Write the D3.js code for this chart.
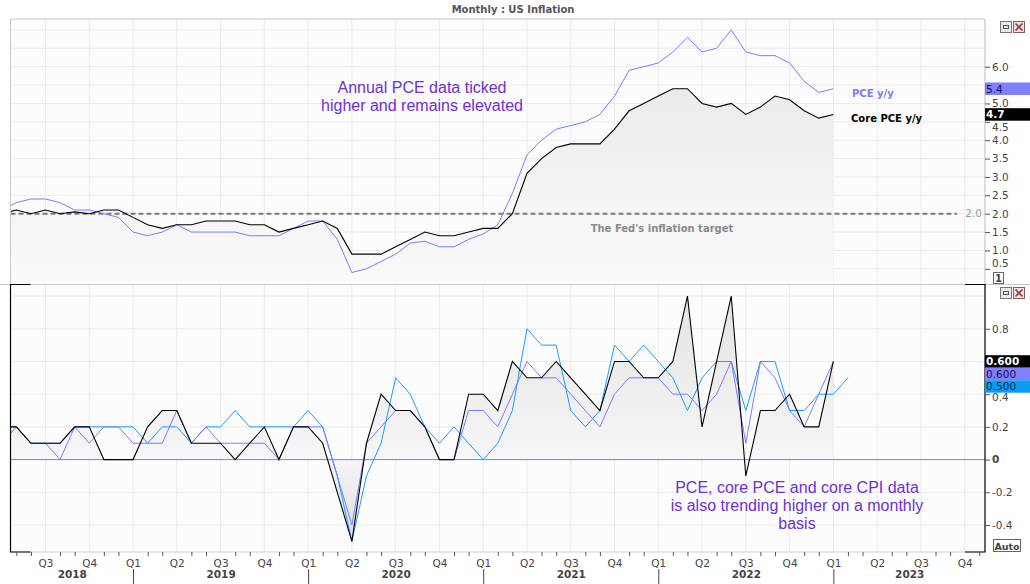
<!DOCTYPE html>
<html><head><meta charset="utf-8">
<script src="https://cdn.jsdelivr.net/npm/d3@7"></script>
<style>
body{margin:0;background:#fff}
svg{display:block}
text{font-family:"DejaVu Sans",sans-serif}
</style>
</head><body>
<svg id="c" width="1030" height="584"></svg>
<script>
// ---------- DATA (monthly, Apr 2018 onward) ----------
const axisMonths = d3.timeMonth.range(new Date(2018, 3, 1), new Date(2023, 11, 1)); // Apr 2018 .. Nov 2023

const pceYoY = [2.1,2.3,2.4,2.4,2.3,2.1,2.1,2.0,1.9,
  1.5,1.4,1.5,1.7,1.5,1.5,1.5,1.5,1.4,1.4,1.4,1.6,
  1.8,1.8,1.3,0.4,0.5,0.7,0.9,1.2,1.25,1.1,1.1,1.3,
  1.45,1.7,2.55,3.6,4.0,4.3,4.4,4.5,4.7,5.2,5.9,6.0,
  6.1,6.4,6.8,6.4,6.5,7.0,6.4,6.3,6.3,6.1,5.6,5.3,
  5.4];
const corePceYoY = [2.0,2.1,2.0,2.1,2.0,2.05,2.0,2.1,2.1,
  1.9,1.7,1.6,1.7,1.7,1.8,1.8,1.8,1.7,1.7,1.5,1.6,
  1.7,1.8,1.6,0.9,0.9,0.9,1.1,1.3,1.5,1.4,1.4,1.5,
  1.6,1.6,2.0,3.1,3.5,3.8,3.9,3.9,3.9,4.3,4.8,5.0,
  5.2,5.4,5.4,5.0,4.9,5.0,4.7,4.9,5.2,5.1,4.8,4.6,
  4.7];
const pceMoM = [0.2,0.2,0.1,0.1,0.1,0.2,0.2,0.0,0.0,
  0.0,0.2,0.3,0.3,0.1,0.1,0.1,0.0,0.1,0.2,0.0,0.2,
  0.2,0.1,-0.2,-0.5,0.1,0.4,0.3,0.3,0.2,0.0,0.0,0.4,
  0.4,0.3,0.6,0.5,0.5,0.6,0.5,0.4,0.3,0.6,0.6,0.5,
  0.5,0.6,1.0,0.2,0.6,1.0,-0.1,0.3,0.3,0.4,0.2,0.2,
  0.6];
const corePceMoM = [0.2,0.2,0.1,0.1,0.0,0.2,0.1,0.2,0.2,
  0.1,0.1,0.1,0.3,0.1,0.2,0.1,0.1,0.1,0.1,0.0,0.2,
  0.2,0.2,-0.1,-0.4,0.1,0.2,0.3,0.3,0.2,0.0,0.0,0.3,
  0.3,0.2,0.4,0.6,0.5,0.5,0.4,0.3,0.2,0.4,0.5,0.5,
  0.5,0.4,0.4,0.3,0.4,0.6,0.1,0.6,0.5,0.3,0.2,0.4,
  0.6];
const coreCpiMoM = [0.1,0.2,0.1,0.1,0.1,0.2,0.2,0.2,0.2,
  0.2,0.1,0.2,0.2,0.1,0.2,0.2,0.3,0.2,0.2,0.2,0.2,
  0.3,0.2,-0.1,-0.5,-0.1,0.1,0.5,0.4,0.2,0.1,0.2,0.1,
  0.0,0.1,0.3,0.8,0.7,0.7,0.3,0.2,0.3,0.7,0.6,0.7,
  0.6,0.5,0.3,0.5,0.6,0.6,0.3,0.6,0.6,0.3,0.3,0.4,
  0.4,0.5];

const topTicks = [0.5,1.0,1.5,2.0,2.5,3.0,3.5,4.0,4.5,5.0,5.5,6.0];
const topGrid = [0.5,1.0,1.5,2.0,2.5,3.0,3.5,4.0,4.5,5.0,5.5,6.0,6.5,7.0];
const bottomTicks = [-0.4,-0.2,0,0.2,0.4,0.6,0.8];
const bottomGrid = [-0.4,-0.2,0,0.2,0.4,0.6,0.8,1.0];
const hiddenTopLabels = [5.5];      // covered by the last-value boxes
const hiddenBottomLabels = [0.6];
const fedTarget = 2.0;
const titleText = "Monthly : US Inflation";
const topNote = ["Annual PCE data ticked", "higher and remains elevated"];
const bottomNote = ["PCE, core PCE and core CPI data", "is also trending higher on a monthly", "basis"];

// ---------- LAYOUT ----------
const L = 10.5, R = 985, T1 = 19, B1 = 284.5, B2 = 552;
const svg = d3.select("#c");
const x = d3.scaleLinear().domain([0, 66]).range([1.73, 964.67]);
const y1 = d3.scaleLinear().domain([0, 7.3]).range([287.2, 18.9]);
const y2 = d3.scaleLinear().domain([-0.565, 1.07]).range([552, 284.6]);

const C_PCE = "#7b7bff", C_CPI = "#1a9cff", C_NOTE = "#6c31cf";

const defs = svg.append("defs");
defs.append("clipPath").attr("id","clipTop").append("rect").attr("x",L).attr("y",T1).attr("width",R-L).attr("height",B1-T1);
defs.append("clipPath").attr("id","clipBot").append("rect").attr("x",L).attr("y",B1).attr("width",R-L).attr("height",B2-B1);
const g1 = defs.append("linearGradient").attr("id","gTop").attr("gradientUnits","userSpaceOnUse").attr("x1",0).attr("x2",0).attr("y1",T1).attr("y2",B1);
g1.append("stop").attr("offset",0).attr("stop-color","#e6e6e6");
g1.append("stop").attr("offset",1).attr("stop-color","#fafafa");
const z0 = (y2(0)-B1)/(B2-B1);
const g2 = defs.append("linearGradient").attr("id","gBot").attr("gradientUnits","userSpaceOnUse").attr("x1",0).attr("x2",0).attr("y1",B1).attr("y2",B2);
g2.append("stop").attr("offset",0).attr("stop-color","#e2e2e2");
g2.append("stop").attr("offset",z0).attr("stop-color","#f6f6f6");
g2.append("stop").attr("offset",1).attr("stop-color","#d8d8d8");

// backgrounds
svg.append("rect").attr("x",L).attr("y",T1).attr("width",R-L).attr("height",B1-T1).attr("fill","#fcfcfc");
svg.append("rect").attr("x",L).attr("y",B1).attr("width",R-L).attr("height",B2-B1).attr("fill","#fcfcfc");

// grids
const idx = axisMonths.map((d,i)=>i);
const quarterIdx = idx.filter(i => axisMonths[i].getMonth()%3===0 && x(i)>L && x(i)<R);
const gridG = svg.append("g").attr("stroke","#ebebeb").attr("stroke-width",1);
quarterIdx.forEach(i=>{
  gridG.append("line").attr("x1",x(i)).attr("x2",x(i)).attr("y1",T1).attr("y2",B2);
});
topGrid.forEach(v=>{
  gridG.append("line").attr("x1",L).attr("x2",R).attr("y1",y1(v)).attr("y2",y1(v));
});
bottomGrid.forEach(v=>{
  gridG.append("line").attr("x1",L).attr("x2",R).attr("y1",y2(v)).attr("y2",y2(v));
});

// ---------- TOP PANEL ----------
const topG = svg.append("g").attr("clip-path","url(#clipTop)");
topG.append("path").datum(corePceYoY)
  .attr("d", d3.area().x((d,i)=>x(i)).y0(B1).y1(d=>y1(d)))
  .attr("fill","url(#gTop)");
topG.append("line").attr("x1",L).attr("x2",957).attr("y1",y1(fedTarget)).attr("y2",y1(fedTarget))
  .attr("stroke","#7a7a7a").attr("stroke-width",2).attr("stroke-dasharray","5,3");
const lineTop = d3.line().x((d,i)=>x(i)).y(d=>y1(d));
topG.append("path").datum(pceYoY).attr("d",lineTop).attr("fill","none").attr("stroke",C_PCE).attr("stroke-width",1);
topG.append("path").datum(corePceYoY).attr("d",lineTop).attr("fill","none").attr("stroke","#000").attr("stroke-width",1.1);

// ---------- BOTTOM PANEL ----------
const botG = svg.append("g").attr("clip-path","url(#clipBot)");
botG.append("path").datum(pceMoM)
  .attr("d", d3.area().x((d,i)=>x(i)).y0(y2(0)).y1(d=>y2(d)))
  .attr("fill","url(#gBot)");
botG.append("line").attr("x1",L).attr("x2",R).attr("y1",y2(0)).attr("y2",y2(0)).attr("stroke",C_PCE).attr("stroke-width",1);
const lineBot = d3.line().x((d,i)=>x(i)).y(d=>y2(d));
botG.append("path").datum(coreCpiMoM).attr("d",lineBot).attr("fill","none").attr("stroke",C_CPI).attr("stroke-width",1);
botG.append("path").datum(corePceMoM).attr("d",lineBot).attr("fill","none").attr("stroke",C_PCE).attr("stroke-width",1);
botG.append("path").datum(pceMoM).attr("d",lineBot).attr("fill","none").attr("stroke","#000").attr("stroke-width",1.1);

// ---------- FRAMES ----------
svg.append("line").attr("x1",0).attr("x2",1030).attr("y1",B1).attr("y2",B1).attr("stroke","#c8c8c8");
svg.append("line").attr("x1",L).attr("x2",R).attr("y1",T1).attr("y2",T1).attr("stroke","#c8c8c8");
svg.append("line").attr("x1",L).attr("x2",L).attr("y1",T1).attr("y2",B1).attr("stroke","#c8c8c8");
svg.append("line").attr("x1",R).attr("x2",R).attr("y1",T1).attr("y2",B1).attr("stroke","#bdbdbd");
svg.append("line").attr("x1",L).attr("x2",R).attr("y1",B2).attr("y2",B2).attr("stroke","#d0d0d0");
const br = svg.append("g").attr("stroke","#000").attr("stroke-width",1.2).attr("fill","none");
br.append("path").attr("d",`M${L+20},${B1}H${L}V${B2}H${L+20}`);
br.append("path").attr("d",`M${R-20},${B1}H${R}V${B2}H${R-20}`);

// ---------- Y AXES ----------
const fmt1 = d => d===0 ? "0" : d.toFixed(1);
const ay1 = svg.append("g").attr("transform",`translate(${R},0)`)
  .call(d3.axisRight(y1).tickValues(topTicks).tickSize(5).tickPadding(2).tickFormat(fmt1));
ay1.select(".domain").remove();
ay1.selectAll(".tick line").attr("stroke","#555");
ay1.selectAll(".tick text").attr("fill","#444").style("font-size","10.5px").style("font-family","DejaVu Sans");
ay1.selectAll(".tick").filter(d=>d===0.5).select("text").attr("dy","-0.25em");
ay1.selectAll(".tick").filter(d=>hiddenTopLabels.includes(d)).select("text").remove();
ay1.selectAll(".tick").filter(d=>d===4.5).select("text").attr("dy","0.78em");

const ay2 = svg.append("g").attr("transform",`translate(${R},0)`)
  .call(d3.axisRight(y2).tickValues(bottomTicks).tickSize(5).tickPadding(2).tickFormat(fmt1));
ay2.select(".domain").remove();
ay2.selectAll(".tick line").attr("stroke","#555");
ay2.selectAll(".tick text").attr("fill","#444").style("font-size","10.5px").style("font-family","DejaVu Sans");
ay2.selectAll(".tick").filter(d=>d===0).select("text").style("font-weight","bold");
ay2.selectAll(".tick").filter(d=>hiddenBottomLabels.includes(d)).select("text").remove();
ay2.selectAll(".tick").filter(d=>d===0.4).select("text").attr("dy","0.6em");

// ---------- X AXIS ----------
const minorIdx = idx.filter(i => axisMonths[i].getMonth()%3!==0 && x(i)>L && x(i)<=R);
const ax1 = svg.append("g").attr("transform",`translate(0,${B2})`)
  .call(d3.axisBottom(x).tickValues(minorIdx).tickSize(4).tickFormat(""));
ax1.select(".domain").remove();
ax1.selectAll(".tick line").attr("stroke","#555");

const ax2 = svg.append("g").attr("transform",`translate(0,${B2})`)
  .call(d3.axisBottom(x).tickValues(quarterIdx).tickSize(0).tickPadding(7.5)
    .tickFormat(i => "Q" + (Math.floor(axisMonths[i].getMonth()/3)+1)));
ax2.select(".domain").remove();
ax2.selectAll(".tick text").attr("fill","#444").style("font-size","10.5px").style("font-family","DejaVu Sans");

const janIdx = idx.filter(i => axisMonths[i].getMonth()===0);
const ax3 = svg.append("g").attr("transform",`translate(0,569)`)
  .call(d3.axisBottom(x).tickValues(janIdx).tickSize(15).tickFormat(""));
ax3.select(".domain").remove();
ax3.selectAll(".tick line").attr("stroke","#444");

const yearsList = d3.range(2018, 2024);
const yearCenters = yearsList.map(yr => {
  const jStart = idx.find(i=>axisMonths[i].getFullYear()===yr && axisMonths[i].getMonth()===0);
  const a = jStart===undefined ? L : Math.max(L, x(jStart));
  const jn = idx.find(i=>axisMonths[i].getFullYear()===yr+1 && axisMonths[i].getMonth()===0);
  const b = jn===undefined ? R : Math.min(R, x(jn));
  return x.invert((a+b)/2);
});
const ax4 = svg.append("g").attr("transform",`translate(0,569)`)
  .call(d3.axisBottom(x).tickValues(yearCenters).tickSize(0).tickPadding(1.5)
    .tickFormat((d,k)=>String(yearsList[k])));
ax4.select(".domain").remove();
ax4.selectAll(".tick text").attr("fill","#444").style("font-size","10.5px").style("font-weight","bold").style("font-family","DejaVu Sans");

// ---------- VALUE BOXES ----------
function boxes(list, scale){
  let prevBottom = -1e9;
  list.forEach(b=>{
    const h = 12.5;
    let t = scale(b.v) - h/2;
    if (t < prevBottom) t = prevBottom;
    prevBottom = t + h;
    svg.append("rect").attr("x",R).attr("y",t).attr("width",1030-R).attr("height",h).attr("fill",b.bg);
    svg.append("text").attr("x",R+1).attr("y",t+h/2).attr("dy","0.36em")
      .attr("fill",b.fg).style("font-size","10.5px").style("font-weight",b.bold?"bold":"normal").text(b.label);
  });
}
boxes([{v:pceYoY[pceYoY.length-1], bg:"#8080ff", fg:"#101040", label:pceYoY[pceYoY.length-1].toFixed(1)},
       {v:corePceYoY[corePceYoY.length-1], bg:"#000", fg:"#fff", bold:true, label:corePceYoY[corePceYoY.length-1].toFixed(1)}], y1);
boxes([{v:pceMoM[pceMoM.length-1], bg:"#000", fg:"#fff", bold:true, label:pceMoM[pceMoM.length-1].toFixed(3)},
       {v:corePceMoM[corePceMoM.length-1], bg:"#8080ff", fg:"#2a0a50", label:corePceMoM[corePceMoM.length-1].toFixed(3)},
       {v:coreCpiMoM[coreCpiMoM.length-1], bg:"#0a9cf5", fg:"#06204a", label:coreCpiMoM[coreCpiMoM.length-1].toFixed(3)}], y2);

// ---------- TEXTS ----------
svg.append("text").attr("x",513).attr("y",13).attr("text-anchor","middle")
  .attr("fill","#555").style("font-size","10px").style("font-weight","bold").text(titleText);
svg.append("text").attr("x",982).attr("y",y1(fedTarget)).attr("dy","0.36em").attr("text-anchor","end")
  .attr("fill","#9a9a9a").style("font-size","10.5px").text(fedTarget.toFixed(1));
svg.append("text").attr("x",662).attr("y",232).attr("text-anchor","middle")
  .attr("fill","#8a8a8a").style("font-size","10px").style("font-weight","bold").text("The Fed's inflation target");
svg.append("text").attr("x",852).attr("y",97).attr("fill",C_PCE).style("font-size","10px").style("font-weight","bold").text("PCE y/y");
svg.append("text").attr("x",851).attr("y",122).attr("fill","#000").style("font-size","10px").style("font-weight","bold").text("Core PCE y/y");

topNote.forEach((s,k)=>{
  svg.append("text").attr("x",422).attr("y",93+k*18).attr("text-anchor","middle")
    .attr("fill",C_NOTE).style("font-family","'Liberation Sans',Arial,sans-serif").style("font-size","16px").text(s);
});
bottomNote.forEach((s,k)=>{
  svg.append("text").attr("x",797).attr("y",493+k*18).attr("text-anchor","middle")
    .attr("fill",C_NOTE).style("font-family","'Liberation Sans',Arial,sans-serif").style("font-size","16px").text(s);
});

// ---------- WINDOW ICONS ----------
function icons(y){
  const g = svg.append("g");
  g.append("rect").attr("x",1000.5).attr("y",y+0.5).attr("width",11).attr("height",11).attr("fill","#e8e8ee").attr("stroke","#777");
  g.append("rect").attr("x",1003.5).attr("y",y+4.5).attr("width",5).attr("height",3).attr("fill","none").attr("stroke","#555");
  g.append("rect").attr("x",1013.5).attr("y",y+0.5).attr("width",11).attr("height",11).attr("fill","#f0e4e4").attr("stroke","#8a5a5a");
  g.append("path").attr("d",`M${1015.5},${y+2.5}L${1022.5},${y+9.5}M${1022.5},${y+2.5}L${1015.5},${y+9.5}`).attr("stroke","#a03030").attr("stroke-width",1.6);
}
icons(21); icons(287);
svg.append("rect").attr("x",993.5).attr("y",272.5).attr("width",10).attr("height",11).attr("fill","#fff").attr("stroke","#666");
svg.append("text").attr("x",998.5).attr("y",282).attr("text-anchor","middle").attr("fill","#444").style("font-size","10px").style("font-weight","bold").text("1");
svg.append("rect").attr("x",993.5).attr("y",539.5).attr("width",27).attr("height",12).attr("fill","#fff").attr("stroke","#666");
svg.append("text").attr("x",1007).attr("y",549.5).attr("text-anchor","middle").attr("fill","#444").style("font-size","9.5px").style("font-weight","bold").text("Auto");
</script>
</body></html>
